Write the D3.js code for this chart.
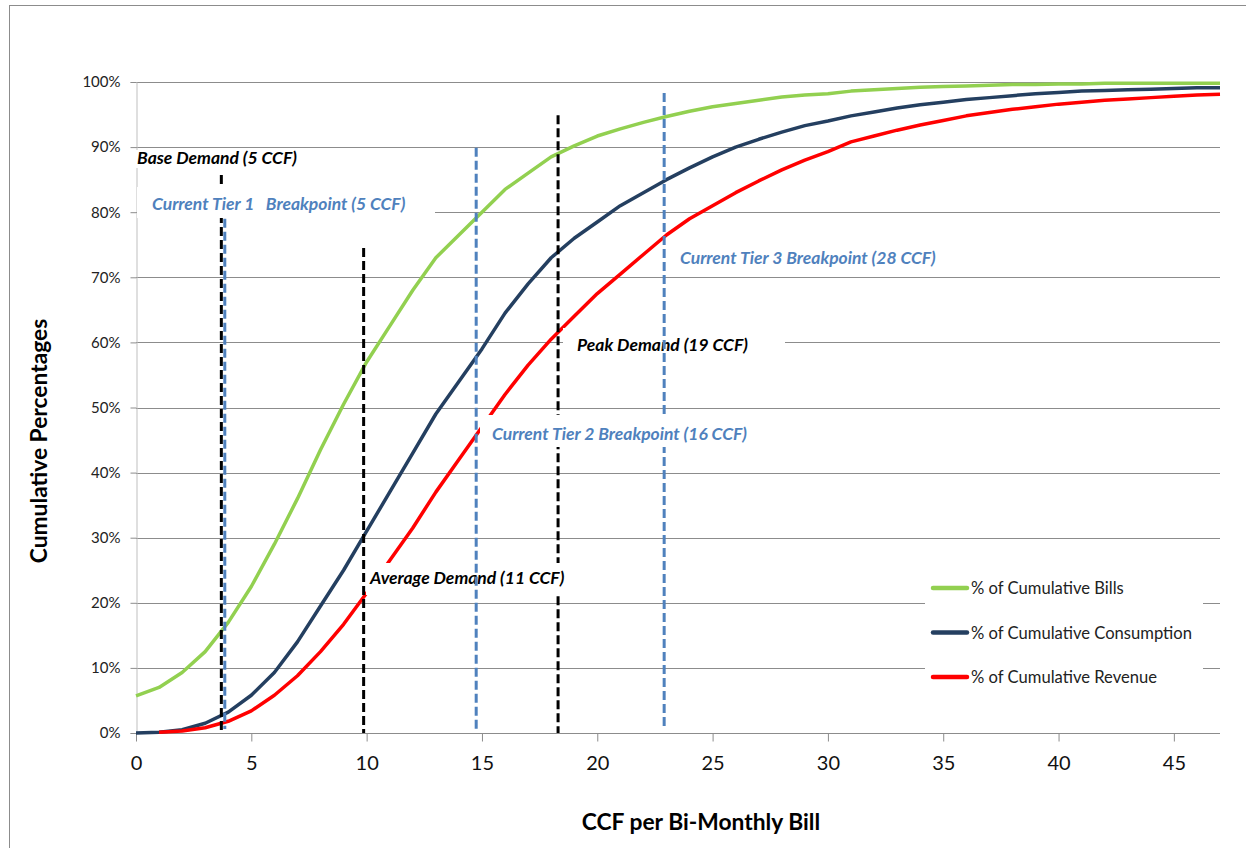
<!DOCTYPE html>
<html><head><meta charset="utf-8">
<script src="https://cdn.jsdelivr.net/npm/d3@7"></script>
<style>
html,body{margin:0;padding:0;background:#fff;}
svg{display:block;}
text{font-family:Lato,"Open Sans",sans-serif;}
</style></head>
<body><div id="chart"></div>
<script>
// ---- data ----
const ccf = d3.range(0, 48); // 0..47
const billsPct = [5.7,7.0,9.3,12.5,17.0,22.5,29.0,36.0,43.5,50.5,57.0,62.5,68.0,73.0,76.5,80.0,83.5,86.0,88.5,90.2,91.7,92.8,93.8,94.7,95.5,96.2,96.7,97.2,97.7,98.0,98.2,98.6,98.8,99.0,99.2,99.3,99.4,99.5,99.6,99.6,99.7,99.7,99.8,99.8,99.8,99.8,99.8,99.8];
const consumptionPct = [0,0.1,0.5,1.5,3.2,5.8,9.3,14.0,19.5,25.0,31.0,37.0,43.0,49.0,54.0,59.0,64.5,69.0,73.0,76.0,78.5,81.0,83.0,85.0,86.8,88.5,90.0,91.2,92.3,93.3,94.0,94.8,95.4,96.0,96.5,96.9,97.3,97.6,97.9,98.2,98.4,98.6,98.7,98.8,98.9,99.0,99.1,99.1];
const revenueCcf = d3.range(1, 48);
const revenuePct = [0.1,0.3,0.8,1.8,3.4,5.8,8.8,12.5,16.7,21.5,26.5,31.5,37.0,42.0,47.0,52.0,56.5,60.5,64.0,67.5,70.5,73.5,76.5,79.0,81.0,83.0,84.8,86.5,88.0,89.3,90.8,91.7,92.6,93.4,94.1,94.8,95.3,95.8,96.2,96.6,96.9,97.2,97.4,97.6,97.8,98.0,98.1];
const seriesNames = ["% of Cumulative Bills","% of Cumulative Consumption","% of Cumulative Revenue"];
const seriesColors = ["#92D050","#243F60","#FF0000"];
const xTicks = [0,5,10,15,20,25,30,35,40,45];
const yTicks = [0,10,20,30,40,50,60,70,80,90,100];
// reference lines: [x position, top %]
const demandLines = [[3.7,85.7],[9.87,74.5],[18.3,94.9]];
const tierLines = [[3.85,79],[14.75,89.9],[22.9,98.3]];
const demandLabels = ["Base Demand (5 CCF)","Average Demand (11 CCF)","Peak Demand (19 CCF)"];
const tierLabels = ["Current Tier 1   Breakpoint (5 CCF)","Current Tier 2 Breakpoint (16 CCF)","Current Tier 3 Breakpoint (28 CCF)"];
const xTitle = "CCF per Bi-Monthly Bill";
const yTitle = "Cumulative Percentages";

// ---- layout ----
const W = 1246, H = 848;
const svg = d3.select("#chart").append("svg").attr("width", W).attr("height", H);
svg.append("rect").attr("x",9.5).attr("y",5.5).attr("width",1260).attr("height",900)
  .attr("fill","#fff").attr("stroke","#8c8c8c").attr("stroke-width",1);

const x = d3.scaleLinear().domain([0,47]).range([136,1220]);
const y = d3.scaleLinear().domain([0,100]).range([733,82]);

// gridlines
svg.append("g").selectAll("line").data(yTicks.filter(d=>d>0)).join("line")
  .attr("x1",x(0)).attr("x2",x(47)).attr("y1",d=>Math.round(y(d))+0.5).attr("y2",d=>Math.round(y(d))+0.5)
  .attr("stroke","#8c8c8c").attr("stroke-width",1);

// y axis
const yAxis = svg.append("g").attr("transform",`translate(${x(0)+0.5},0)`)
  .call(d3.axisLeft(y).tickValues(yTicks).tickFormat(d=>d+"%").tickSize(6).tickPadding(10));
yAxis.select(".domain").attr("stroke","#bfbfbf");
yAxis.selectAll(".tick line").attr("stroke","#8c8c8c");
yAxis.selectAll("text").attr("font-size",15).attr("fill","#222").attr("font-family","Lato");

// x axis
const xAxis = svg.append("g").attr("transform",`translate(0,${Math.round(y(0))+0.5})`)
  .call(d3.axisBottom(x).tickValues(xTicks).tickSize(8).tickPadding(14));
xAxis.select(".domain").attr("stroke","#8c8c8c").attr("d",`M${x(0)},0H${x(47)}`);
xAxis.selectAll(".tick line").attr("stroke","#8c8c8c");
xAxis.selectAll("text").attr("font-size",20).attr("fill","#111").attr("font-family","Lato");

// axis titles
svg.append("text").attr("x",701).attr("y",830).attr("text-anchor","middle")
  .attr("font-size",22.8).attr("font-weight","bold").attr("fill","#000").text(xTitle);
svg.append("text").attr("transform","translate(47,441) rotate(-90)").attr("text-anchor","middle")
  .attr("font-size",22.8).attr("font-weight","bold").attr("fill","#000").text(yTitle);

// series
const line = d3.line().x(d=>x(d[0])).y(d=>y(d[1]));
const seriesData = [
  d3.zip(ccf,billsPct),
  d3.zip(ccf,consumptionPct),
  d3.zip(revenueCcf,revenuePct)
];
const curves = svg.append("g");
seriesData.forEach((s,i)=>{
  curves.append("path").attr("d",line(s)).attr("fill","none")
    .attr("stroke",seriesColors[i]).attr("stroke-width",3.5).attr("stroke-linejoin","round");
});

// demand (black) lines
svg.append("g").selectAll("line").data(demandLines).join("line")
  .attr("x1",d=>x(d[0])).attr("x2",d=>x(d[0])).attr("y1",d=>y(d[1])).attr("y2",y(0))
  .attr("stroke","#000").attr("stroke-width",3).attr("stroke-dasharray","9,4");

// label helper
function label(txt, tx, ty, color, box){
  const g = svg.append("g");
  g.append("rect").attr("x",box[0]).attr("y",box[1]).attr("width",box[2]-box[0]).attr("height",box[3]-box[1]).attr("fill","#fff");
  g.append("text").attr("x",tx).attr("y",ty).attr("font-size",17.5).attr("font-weight","bold")
    .attr("font-style","italic").attr("fill",color).attr("xml:space","preserve").style("white-space","pre").text(txt);
}
// black labels
label(demandLabels[0], 137, 164, "#000", [136,150,300,168]);
label(demandLabels[1], 370, 584, "#000", [366,563,590,595]);
label(demandLabels[2], 577, 351, "#000", [563,328,785,358]);

// tier (blue) lines
svg.append("g").selectAll("line").data(tierLines).join("line")
  .attr("x1",d=>x(d[0])).attr("x2",d=>x(d[0])).attr("y1",d=>y(d[1])).attr("y2",y(0)-4)
  .attr("stroke","#4F81BD").attr("stroke-width",3).attr("stroke-dasharray","9,4");

// blue labels
label(tierLabels[0], 152, 210, "#4F81BD", [137,187,435,218]);
label(tierLabels[1], 492, 440, "#4F81BD", [480,415,762,447]);
label(tierLabels[2], 680, 264, "#4F81BD", [672,245,945,272]);

// legend
const lg = svg.append("g");
lg.append("rect").attr("x",925).attr("y",572).attr("width",278).attr("height",120).attr("fill","#fff");
seriesNames.forEach((n,i)=>{
  const yy = 588 + i*44.5;
  lg.append("line").attr("x1",933).attr("x2",967).attr("y1",yy).attr("y2",yy)
    .attr("stroke",seriesColors[i]).attr("stroke-width",4.5).attr("stroke-linecap","round");
  lg.append("text").attr("x",971).attr("y",yy+6).attr("font-size",16.6).attr("fill","#222").text(n);
});
</script>
</body></html>
